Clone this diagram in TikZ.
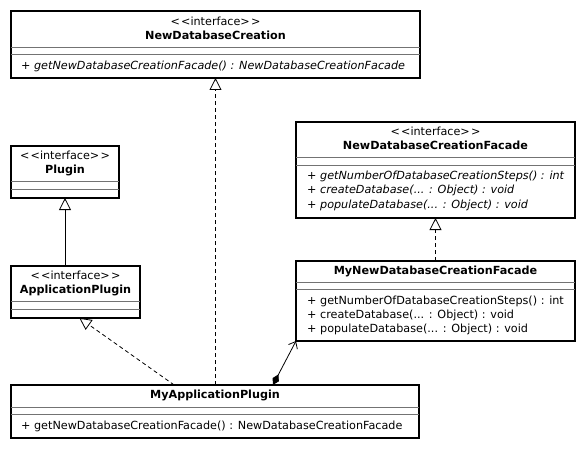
\documentclass[tikz,border=0pt]{standalone}
\usepackage{fontspec}
\setmainfont{DejaVu Sans}
\usetikzlibrary{arrows.meta,calc}
\newcommand{\stereo}[1]{<\kern1.2pt<#1>\kern1.2pt>}
\begin{document}
\begin{tikzpicture}[x=1pt,y=-1pt,
  umlbox/.style={draw, line width=2.6pt, rectangle, inner sep=0pt, outer sep=0pt, anchor=north west},
  sep/.style={draw=black!55, line width=0.9pt},
  txt/.style={inner sep=0pt, text height=8pt, text depth=2.2pt, font=\fontsize{11.2}{13}\selectfont},
  ttl/.style={txt, font=\fontsize{11.2}{13}\selectfont\bfseries},
  op/.style={txt, anchor=west},
  iop/.style={op, font=\fontsize{11.2}{13}\selectfont\itshape},
  realize/.style={line width=0.8pt, dash pattern=on 4pt off 3pt, -{Triangle[open, length=12pt, width=12pt, line width=0.8pt]}},
  generalize/.style={line width=0.8pt, -{Triangle[open, length=12pt, width=12pt, line width=0.8pt]}},
  compose/.style={line width=0.8pt, {Diamond[length=12pt, width=7pt]}-{Straight Barb[length=6pt, width=10pt, line width=0.8pt]}}
]
\useasboundingbox (0,0) rectangle (585,449);

% class boxes
\node[umlbox, minimum width=409pt, minimum height=67pt] (A) at (11,11) {};
\node[umlbox, minimum width=108pt, minimum height=52pt] (D) at (11,146) {};
\node[umlbox, minimum width=129pt, minimum height=52pt] (E) at (11,266) {};
\node[umlbox, minimum width=279pt, minimum height=96pt] (B) at (296,122) {};
\node[umlbox, minimum width=279pt, minimum height=80pt] (C) at (296,261) {};
\node[umlbox, minimum width=408pt, minimum height=53pt] (F) at (11,385) {};

% NewDatabaseCreation
\node[txt] (As) at ($(A.north)+(0,11.5)$) {\stereo{interface}};
\node[ttl] (At) at ($(A.north)+(0,25.5)$) {NewDatabaseCreation};
\draw[sep] ($(A.north west)+(0,36)$) -- ($(A.north east)+(0,36)$);
\draw[sep] ($(A.north west)+(0,43)$) -- ($(A.north east)+(0,43)$);
\node[iop] (Am) at ($(A.north west)+(10,55.5)$) {+ getNewDatabaseCreationFacade() : NewDatabaseCreationFacade};

% Plugin
\node[txt] (Ds) at ($(D.north)+(0,11)$) {\stereo{interface}};
\node[ttl] (Dt) at ($(D.north)+(0,25)$) {Plugin};
\draw[sep] ($(D.north west)+(0,35)$) -- ($(D.north east)+(0,35)$);
\draw[sep] ($(D.north west)+(0,43)$) -- ($(D.north east)+(0,43)$);

% ApplicationPlugin
\node[txt] (Es) at ($(E.north)+(0,11)$) {\stereo{interface}};
\node[ttl] (Et) at ($(E.north)+(0,25)$) {ApplicationPlugin};
\draw[sep] ($(E.north west)+(0,35.5)$) -- ($(E.north east)+(0,35.5)$);
\draw[sep] ($(E.north west)+(0,43)$) -- ($(E.north east)+(0,43)$);

% NewDatabaseCreationFacade
\node[txt] (Bs) at ($(B.north)+(0,11)$) {\stereo{interface}};
\node[ttl] (Bt) at ($(B.north)+(0,25)$) {NewDatabaseCreationFacade};
\draw[sep] ($(B.north west)+(0,35.5)$) -- ($(B.north east)+(0,35.5)$);
\draw[sep] ($(B.north west)+(0,43)$) -- ($(B.north east)+(0,43)$);
\node[iop] (Bm1) at ($(B.north west)+(11,55)$) {+ getNumberOfDatabaseCreationSteps() : int};
\node[iop] (Bm2) at ($(B.north west)+(11,69)$) {+ createDatabase(... : Object) : void};
\node[iop] (Bm3) at ($(B.north west)+(11,83.5)$) {+ populateDatabase(... : Object) : void};

% MyNewDatabaseCreationFacade
\node[ttl] (Ct) at ($(C.north)+(0,11)$) {MyNewDatabaseCreationFacade};
\draw[sep] ($(C.north west)+(0,21.5)$) -- ($(C.north east)+(0,21.5)$);
\draw[sep] ($(C.north west)+(0,28.5)$) -- ($(C.north east)+(0,28.5)$);
\node[op] (Cm1) at ($(C.north west)+(11,41)$) {+ getNumberOfDatabaseCreationSteps() : int};
\node[op] (Cm2) at ($(C.north west)+(11,55)$) {+ createDatabase(... : Object) : void};
\node[op] (Cm3) at ($(C.north west)+(11,69)$) {+ populateDatabase(... : Object) : void};

% MyApplicationPlugin
\node[ttl] (Ft) at ($(F.north)+(0,11)$) {MyApplicationPlugin};
\draw[sep] ($(F.north west)+(0,22)$) -- ($(F.north east)+(0,22)$);
\draw[sep] ($(F.north west)+(0,29)$) -- ($(F.north east)+(0,29)$);
\node[op] (Fm) at ($(F.north west)+(10,41.5)$) {+ getNewDatabaseCreationFacade() : NewDatabaseCreationFacade};

% connector end points on box edges
\coordinate (fe) at ($(F.north west)!0.4!(F.north east)$);
\coordinate (ef) at ($(E.south west)!0.53!(E.south east)$);
\coordinate (fc) at ($(F.north west)!0.642!(F.north east)$);

% relationships
\draw[realize] (F.north -| A.south) -- (A.south);
\draw[realize] (fe) -- (ef);
\draw[generalize] (E.north -| D.south) -- (D.south);
\draw[realize] (C.north -| B.south) -- (B.south);
\draw[compose] (fc) -- (C.south west);
\end{tikzpicture}
\end{document}
